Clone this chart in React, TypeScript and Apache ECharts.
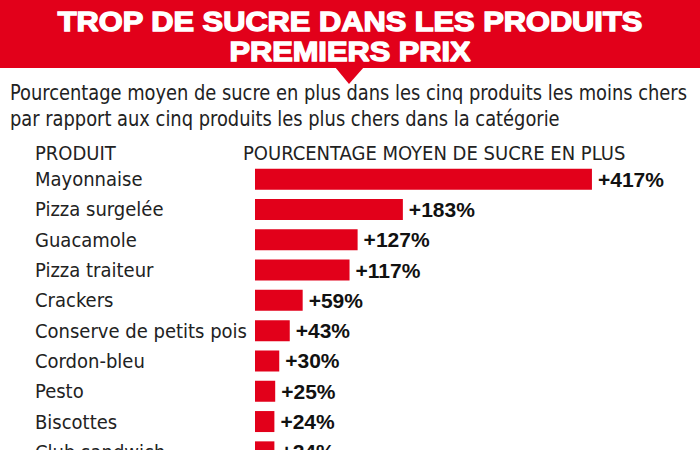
import React, { useEffect, useRef } from "react";
import * as echarts from "echarts";

const categories = [
  "Mayonnaise",
  "Pizza surgelée",
  "Guacamole",
  "Pizza traiteur",
  "Crackers",
  "Conserve de petits pois",
  "Cordon-bleu",
  "Pesto",
  "Biscottes",
  "Club sandwich",
];
const values = [417, 183, 127, 117, 59, 43, 30, 25, 24, 24];

const titleLines = ["TROP DE SUCRE DANS LES PRODUITS", "PREMIERS PRIX"];
const subtitleLines = [
  "Pourcentage moyen de sucre en plus dans les cinq produits les moins chers",
  "par rapport aux cinq produits les plus chers dans la catégorie",
];
const colHeaders = ["PRODUIT", "POURCENTAGE MOYEN DE SUCRE EN PLUS"];

const RED = "#e2001a";
const NARROW = "'DejaVu Sans Condensed', sans-serif";
const ARIAL = "'Liberation Sans', Arial, sans-serif";

export default function App() {
  const ref = useRef<HTMLDivElement>(null);
  useEffect(() => {
    if (!ref.current) return;
    const chart = echarts.init(ref.current, null, { renderer: "svg" });
    const titleText = (text: string, y: number) => ({
      type: "text",
      x: 350,
      y,
      scaleX: 1.1,
      style: {
        text,
        x: 0,
        y: 0,
        align: "center",
        verticalAlign: "middle",
        fontSize: 28,
        lineHeight: 28,
        fontWeight: 900,
        fontFamily: ARIAL,
        fill: "#fff",
        stroke: "#fff",
        lineWidth: 1.4,
      },
    });
    const subText = (text: string, y: number) => ({
      type: "text",
      x: 10,
      y,
      scaleX: 0.945,
      style: {
        text,
        x: 0,
        y: 0,
        verticalAlign: "middle",
        fontSize: 21,
        fontFamily: NARROW,
        fill: "#222",
      },
    });
    chart.setOption({
      animation: false,
      backgroundColor: "#ffffff",
      grid: { left: 255, right: 41, top: 164, bottom: 13, containLabel: false },
      xAxis: {
        type: "value",
        min: 0,
        max: 500,
        show: false,
      },
      yAxis: {
        type: "category",
        data: categories,
        inverse: true,
        axisLine: { show: false },
        axisTick: { show: false },
        splitLine: { show: false },
        axisLabel: {
          align: "left",
          margin: 220,
          fontSize: 20,
          color: "#222",
          fontFamily: NARROW,
        },
      },
      series: [
        {
          type: "bar",
          data: values,
          barWidth: 21,
          itemStyle: { color: RED },
          label: {
            show: true,
            position: "right",
            distance: 6,
            formatter: (p: any) => "+" + p.value + "%",
            fontSize: 21,
            fontWeight: "bold",
            color: "#111",
            fontFamily: ARIAL,
          },
        },
      ],
      graphic: [
        { type: "rect", shape: { x: 0, y: 0, width: 700, height: 68 }, style: { fill: RED } },
        {
          type: "polygon",
          shape: { points: [[335, 67], [364, 67], [349, 84]] },
          style: { fill: RED },
        },
        titleText(titleLines[0], 21),
        titleText(titleLines[1], 51),
        subText(subtitleLines[0], 93),
        subText(subtitleLines[1], 119),
        {
          type: "text",
          style: {
            text: colHeaders[0],
            x: 35,
            y: 153,
            verticalAlign: "middle",
            fontSize: 20,
            fontFamily: NARROW,
            fill: "#222",
          },
        },
        {
          type: "text",
          style: {
            text: colHeaders[1],
            x: 243,
            y: 153,
            verticalAlign: "middle",
            fontSize: 20,
            fontFamily: NARROW,
            fill: "#222",
          },
        },
      ],
    });
    return () => chart.dispose();
  }, []);
  return (
    <div style={{ position: "absolute", left: 0, top: 0, width: 700, height: 450, overflow: "hidden", background: "#fff" }}>
      <div ref={ref} style={{ width: 700, height: 480 }} />
    </div>
  );
}
